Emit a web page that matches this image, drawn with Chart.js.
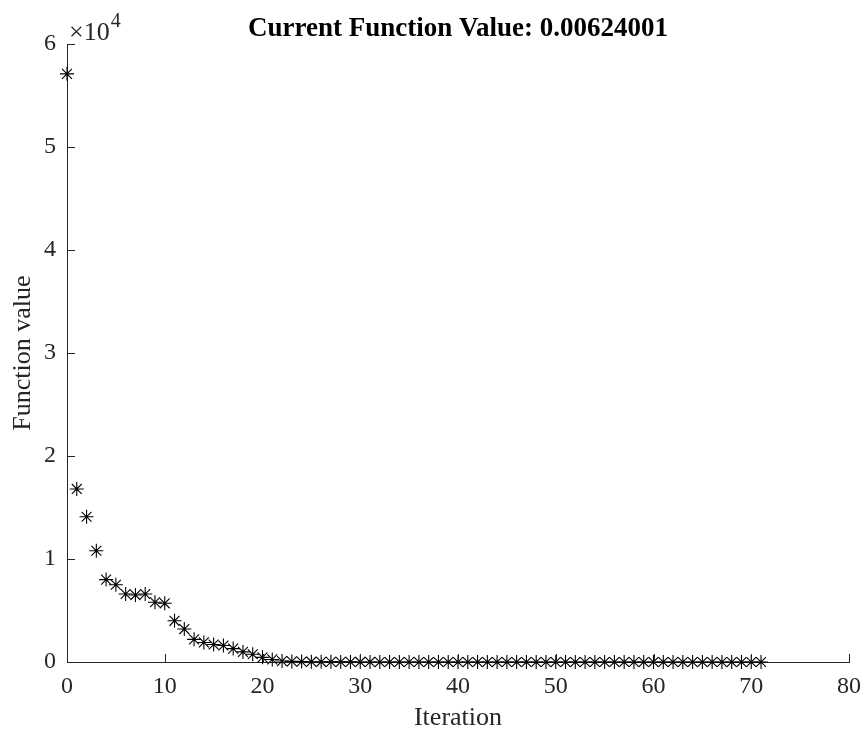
<!DOCTYPE html>
<html>
<head>
<meta charset="utf-8">
<script src="https://cdn.jsdelivr.net/npm/chart.js@4"></script>
<style>
  html, body { margin: 0; padding: 0; background: #fff; }
  #wrap { width: 863px; height: 731px; }
</style>
</head>
<body>
<div id="wrap"><canvas id="myChart"></canvas></div>
<script>
// iteration number on x, best function value on y
const iterations = [
  0, 1, 2, 3, 4, 5, 6, 7, 8, 9, 10, 11, 12, 13, 14, 15, 16, 17, 18, 19,
  20, 21, 22, 23, 24, 25, 26, 27, 28, 29, 30, 31, 32, 33, 34, 35, 36, 37, 38, 39,
  40, 41, 42, 43, 44, 45, 46, 47, 48, 49, 50, 51, 52, 53, 54, 55, 56, 57, 58, 59,
  60, 61, 62, 63, 64, 65, 66, 67, 68, 69, 70, 71
];
const fvals = [
  57100, 16800, 14100, 10800, 8000, 7500, 6600, 6500, 6600, 5800,
  5700, 4000, 3200, 2200, 1900, 1700, 1600, 1300, 980, 750,
  450, 250, 90, 60, 40, 28, 20, 14, 10, 7.5,
  5.2, 3.8, 2.7, 1.9, 1.4, 1.0, 0.75, 0.55, 0.4, 0.3,
  0.22, 0.17, 0.13, 0.1, 0.08, 0.065, 0.052, 0.042, 0.035, 0.029,
  0.024, 0.02, 0.017, 0.015, 0.013, 0.012, 0.011, 0.0098, 0.009, 0.0084,
  0.0078, 0.0074, 0.007, 0.0068, 0.0066, 0.0065, 0.0064, 0.0063, 0.00628, 0.00626,
  0.00625, 0.00624001
];
const xTicks = [0, 10, 20, 30, 40, 50, 60, 70, 80];
const yTicks = [0, 10000, 20000, 30000, 40000, 50000, 60000];
const titleText = "Current Function Value: 0.00624001";

const axisColor = "#262626";
const serif = "'Liberation Serif', 'Times New Roman', serif";

// matlab style ticks pointing into the plot, the x10^4 exponent label
// and the title centred over the axes (not the whole canvas)
const matlabAxes = {
  id: "matlabAxes",
  afterDraw(chart) {
    const { ctx, scales, chartArea } = chart;
    const xs = scales.x, ys = scales.y;
    const len = 8;
    ctx.save();
    ctx.strokeStyle = axisColor;
    ctx.lineWidth = 1;
    ctx.beginPath();
    xTicks.forEach((v) => {
      const px = Math.round(xs.getPixelForValue(v)) + 0.5;
      ctx.moveTo(px, ys.bottom);
      ctx.lineTo(px, ys.bottom - len);
    });
    yTicks.forEach((v) => {
      const py = Math.round(ys.getPixelForValue(v)) + 0.5;
      ctx.moveTo(xs.left, py);
      ctx.lineTo(xs.left + len, py);
    });
    ctx.stroke();

    ctx.fillStyle = axisColor;
    ctx.textBaseline = "alphabetic";
    ctx.textAlign = "left";
    ctx.font = "26px " + serif;
    const x0 = xs.left + 2;
    const y0 = ys.top - 4;
    ctx.fillText("\u00d710", x0, y0);
    const w = ctx.measureText("\u00d710").width;
    ctx.font = "20px " + serif;
    ctx.fillText("4", x0 + w + 1, y0 - 13);

    ctx.fillStyle = "#000";
    ctx.textAlign = "center";
    ctx.textBaseline = "middle";
    ctx.font = "bold 27px " + serif;
    ctx.fillText(titleText, (chartArea.left + chartArea.right) / 2, 29);
    ctx.restore();
  },
};

const ctx = document.getElementById("myChart");

new Chart(ctx, {
  type: "scatter",
  data: {
    datasets: [
      {
        label: "Function value",
        data: iterations.map((it, i) => ({ x: it, y: fvals[i] })),
        pointStyle: "star",
        pointRadius: 7,
        pointBorderWidth: 1.1,
        borderColor: "#000",
        backgroundColor: "#000",
        showLine: false,
        clip: false,
      },
    ],
  },
  options: {
    responsive: true,
    maintainAspectRatio: false,
    animation: false,
    layout: {
      padding: { left: 0, right: 14, top: 44, bottom: 0 },
    },
    scales: {
      x: {
        type: "linear",
        min: 0,
        max: 80,
        afterBuildTicks: (scale) => {
          scale.ticks = xTicks.map((v) => ({ value: v }));
        },
        afterFit: (scale) => {
          scale.height = 69;
          scale.paddingRight = 0;
          scale.paddingLeft = 0;
        },
        grid: { display: false, drawTicks: false },
        border: { display: true, color: axisColor, width: 1 },
        ticks: {
          color: axisColor,
          padding: 10,
          maxRotation: 0,
          font: { family: serif, size: 24 },
        },
        title: {
          display: true,
          text: "Iteration",
          color: axisColor,
          padding: { top: 0, bottom: 0 },
          font: { family: serif, size: 26, lineHeight: 1.0 },
        },
      },
      y: {
        type: "linear",
        min: 0,
        max: 60000,
        afterBuildTicks: (scale) => {
          scale.ticks = yTicks.map((v) => ({ value: v }));
        },
        afterFit: (scale) => {
          scale.width = 67;
          scale.paddingTop = 0;
          scale.paddingBottom = 0;
        },
        grid: { display: false, drawTicks: false },
        border: { display: true, color: axisColor, width: 1 },
        ticks: {
          color: axisColor,
          padding: 11,
          font: { family: serif, size: 24 },
          callback: (v) => v / 10000,
        },
        title: {
          display: true,
          text: "Function value",
          color: axisColor,
          padding: { top: 8, bottom: 0 },
          font: { family: serif, size: 26 },
        },
      },
    },
    plugins: {
      legend: { display: false },
      tooltip: { enabled: false },
      title: { display: false },
    },
  },
  plugins: [matlabAxes],
});
</script>
</body>
</html>
